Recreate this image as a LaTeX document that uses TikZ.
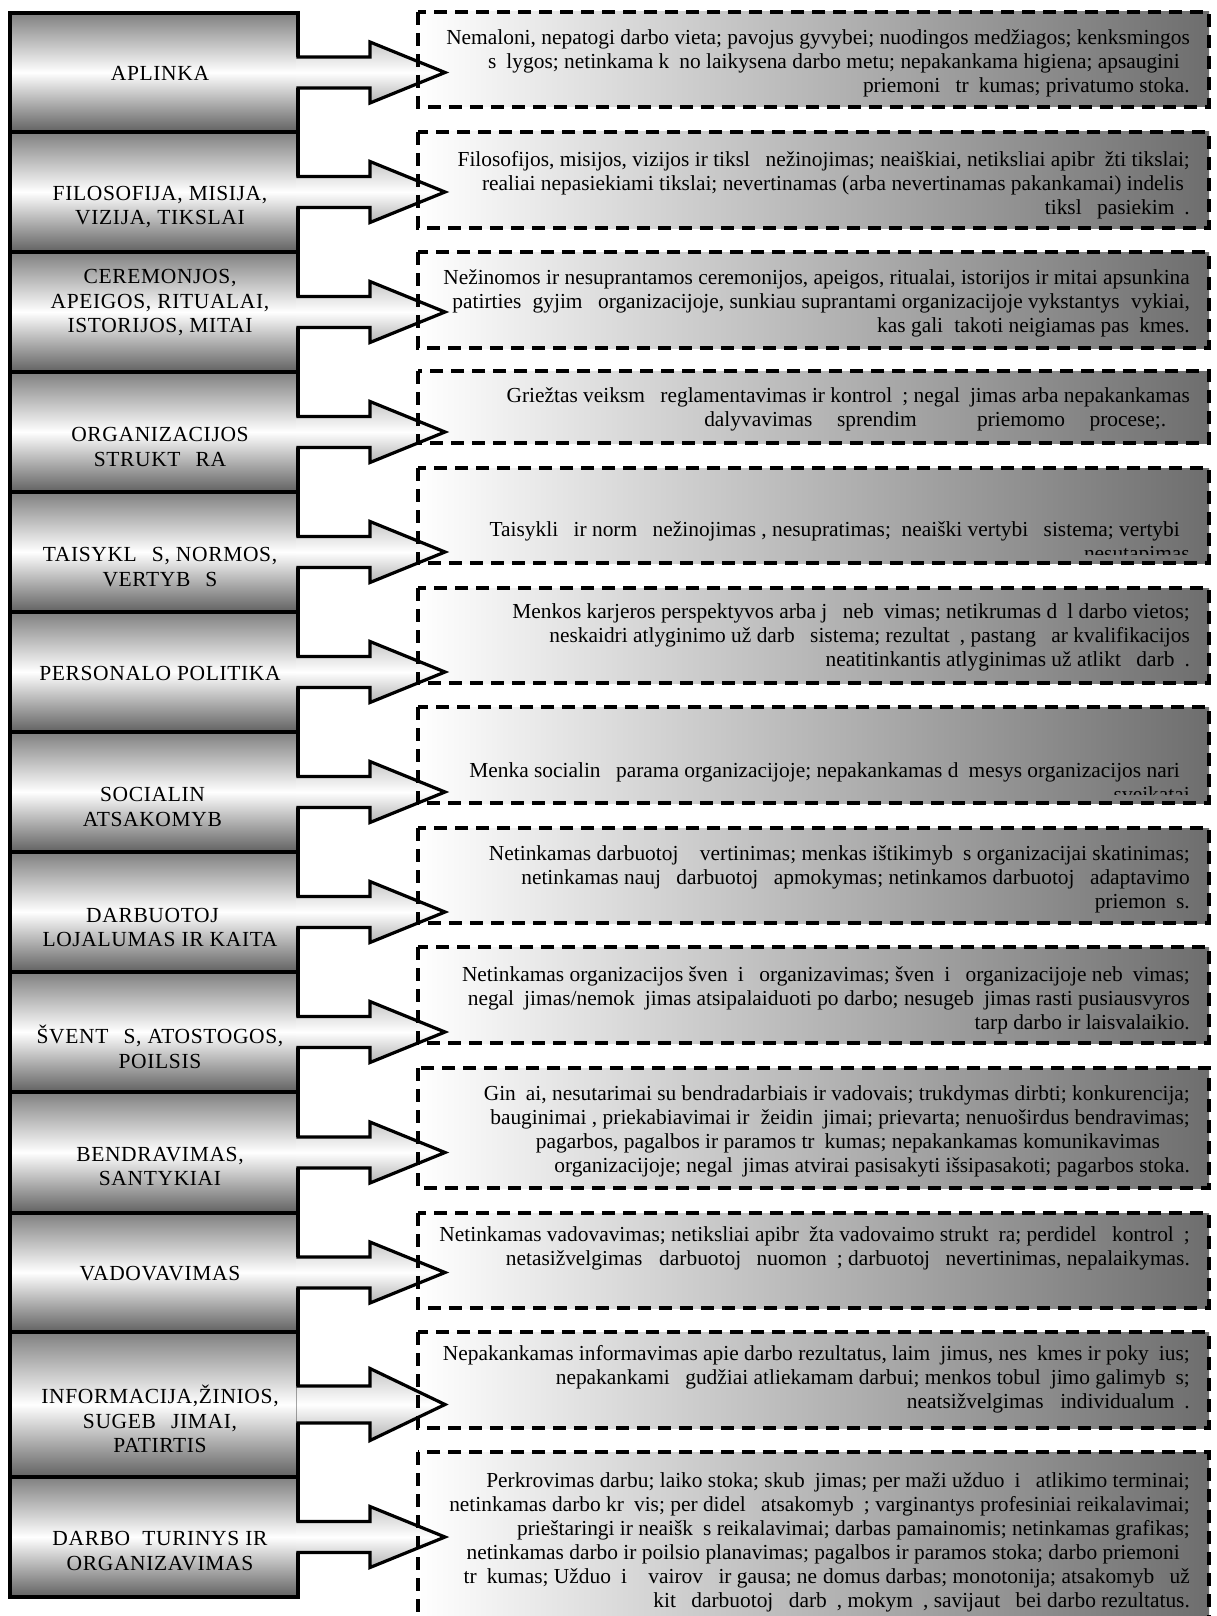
\documentclass[tikz,border=0pt]{standalone}
\usepackage{fontspec}
\setmainfont{Liberation Serif}
\newfontfamily\rfont{Liberation Serif}
\newfontfamily\lfont[LetterSpace=3]{Liberation Serif}
\usetikzlibrary{calc}
\newcommand\mq{\kern0.47em\relax}
\newcommand\mi{\kern0.28em\relax}
\newcommand\MQ{\kern0.7em\relax}
\tikzset{
  lbox/.style={rectangle, draw=black, line width=3.2pt, top color=black!50, bottom color=black!62, middle color=white, minimum width=288pt, inner sep=0pt, outer sep=0pt},
  lbl/.style={font=\lfont\fontsize{21.5}{24.5}\selectfont, align=center, inner sep=0pt},
  rbox/.style={rectangle, left color=white, right color=black!57, minimum width=791pt, inner sep=0pt, outer sep=0pt},
  rbord/.style={draw=black, line width=3.2pt, dash pattern=on 13pt off 8pt},
  rtxt/.style={font=\rfont\fontsize{21.4}{24}\selectfont, align=right, inner sep=0pt, anchor=east},
  arrowsty/.style={draw=black, line width=3.2pt, top color=black!22, bottom color=black!30, middle color=white}
}
\begin{document}
\begin{tikzpicture}[x=1pt,y=-1pt]
\useasboundingbox (0,0) rectangle (1216,1616);
\clip (0,0) rectangle (1216,1616);
% left boxes
\foreach \k/\t/\b in {1/13/132,2/132/252,3/252/372,4/372/492,5/492/612,6/612/732,7/732/852,8/852/972,9/972/1092,10/1092/1213,11/1213/1332,12/1332/1477,13/1477/1597}{
  \node[lbox, minimum height={\b-\t}] (L\k) at (154,{(\t+\b)/2}) {};
}
% labels
\node[lbl] (T1) at (160,73) {APLINKA};
\node[lbl] (T2) at (160,207) {FILOSOFIJA, MISIJA,\\VIZIJA, TIKSLAI};
\node[lbl] (T3) at (160,303) {CEREMONJOS,\\APEIGOS, RITUALAI,\\ISTORIJOS, MITAI};
\node[lbl] (T4) at (160,447) {ORGANIZACIJOS\\STRUKT\MQ RA};
\node[lbl] (T5) at (160,567) {TAISYKL\MQ S, NORMOS,\\VERTYB\MQ S};
\node[lbl] (T6) at (160,673) {PERSONALO POLITIKA};
\node[lbl] (T7) at (160,807) {SOCIALIN\MQ\\ATSAKOMYB\MQ};
\node[lbl] (T8) at (160,927.5) {DARBUOTOJ\MQ\\LOJALUMAS IR KAITA};
\node[lbl] (T9) at (160,1047) {ŠVENT\MQ S, ATOSTOGOS,\\POILSIS};
\node[lbl] (T10) at (160,1166.5) {BENDRAVIMAS,\\SANTYKIAI};
\node[lbl] (T11) at (160,1274) {VADOVAVIMAS};
\node[lbl] (T12) at (160,1419) {INFORMACIJA,ŽINIOS,\\SUGEB\MQ JIMAI,\\PATIRTIS};
\node[lbl] (T13) at (160,1551) {DARBO\ \ TURINYS IR\\ORGANIZAVIMAS};
% right box fills
\foreach \k/\t/\b in {1/12/107,2/132/228,3/252/348,4/371/443,5/468/563,6/588/683,7/707/803,8/828/923,9/947/1043,10/1068/1188,11/1213/1308,12/1332/1428,13/1452/1680}{
  \node[rbox, minimum height={\b-\t}] (R\k) at (813.5,{(\t+\b)/2}) {};
}
% block arrows
\foreach \k/\s/\h in {1/15.5/30.5,2/15.5/30.5,3/15.5/30.5,4/15.5/30.5,5/15.5/30.5,6/15.5/30.5,7/15.5/30.5,8/15.5/30.5,9/15.5/30.5,10/15.5/30.5,11/15.5/30.5,12/18.5/36,13/15.5/30.5}{
  \path[arrowsty] ($(L\k.east)+(-1.7,-\s)$) -- ($(L\k.east)+(72,-\s)$) -- ($(L\k.east)+(72,-\h)$) -- ($(L\k.east)+(147,0)$) -- ($(L\k.east)+(72,\h)$) -- ($(L\k.east)+(72,\s)$) -- ($(L\k.east)+(-1.7,\s)$);
}
% right box borders
\foreach \k in {1,...,13}{
  \draw[rbord] (R\k.north west) rectangle (R\k.south east);
}
% right texts
\node[rtxt] (X1) at (1190,63) {Nemaloni, nepatogi darbo vieta; pavojus gyvybei; nuodingos medžiagos; kenksmingos\\s\mq lygos; netinkama k\mq no laikysena darbo metu; nepakankama higiena; apsaugini\mq\\priemoni\mq{} tr\mq kumas; privatumo stoka.};
\node[rtxt] (X2) at (1190,185) {Filosofijos, misijos, vizijos ir tiksl\mq{} nežinojimas; neaiškiai, netiksliai apibr\mq žti tikslai;\\realiai nepasiekiami tikslai; nevertinamas (arba nevertinamas pakankamai) indelis\mi\\tiksl\mq{} pasiekim\mq.};
\node[rtxt] (X3) at (1190,303) {Nežinomos ir nesuprantamos ceremonijos, apeigos, ritualai, istorijos ir mitai apsunkina\\patirties \mi gyjim\mq{} organizacijoje, sunkiau suprantami organizacijoje vykstantys \mi vykiai,\\kas gali \mi takoti neigiamas pas\mq kmes.};
\node[rtxt] (X4) at (1190,409.5) {Griežtas veiksm\mq{} reglamentavimas ir kontrol\mq; negal\mq jimas arba nepakankamas\\dalyvavimas\hspace{0.9em} sprendim\mq\hspace{2.1em} priemomo\hspace{0.9em} procese;.\kern1.1em};
\begin{scope}
\clip (418,468) rectangle (1209,554);
\node[rtxt] (X5) at (1190,543) {Taisykli\mq{} ir norm\mq{} nežinojimas , nesupratimas;\ \ neaiški vertybi\mq{} sistema; vertybi\mq\\nesutapimas};
\end{scope}
\node[rtxt] (X6) at (1190,637) {Menkos karjeros perspektyvos arba j\mq{} neb\mq vimas; netikrumas d\mq l darbo vietos;\\neskaidri atlyginimo už darb\mq{} sistema; rezultat\mq, pastang\mq{} ar kvalifikacijos\\neatitinkantis atlyginimas už atlikt\mq{} darb\mq.};
\begin{scope}
\clip (418,707) rectangle (1209,794);
\node[rtxt] (X7) at (1190,782) {Menka socialin\mq{} parama organizacijoje; nepakankamas d\mq mesys organizacijos nari\mq\\sveikatai};
\end{scope}
\node[rtxt] (X8) at (1190,879) {Netinkamas darbuotoj\mq{} \mi vertinimas; menkas ištikimyb\mq s organizacijai skatinimas;\\netinkamas nauj\mq{} darbuotoj\mq{} apmokymas; netinkamos darbuotoj\mq{} adaptavimo\\priemon\mq s.};
\node[rtxt] (X9) at (1190,1000) {Netinkamas organizacijos šven\mq i\mq{} organizavimas; šven\mq i\mq{} organizacijoje neb\mq vimas;\\negal\mq jimas/nemok\mq jimas atsipalaiduoti po darbo; nesugeb\mq jimas rasti pusiausvyros\\tarp darbo ir laisvalaikio.};
\node[rtxt] (X10) at (1190,1131) {Gin\mq ai, nesutarimai su bendradarbiais ir vadovais; trukdymas dirbti; konkurencija;\\bauginimai , priekabiavimai ir \mi žeidin\mq jimai; prievarta; nenuoširdus bendravimas;\\pagarbos, pagalbos ir paramos tr\mq kumas; nepakankamas komunikavimas\kern1.4em\\organizacijoje; negal\mq jimas atvirai pasisakyti išsipasakoti; pagarbos stoka.};
\node[rtxt] (X11) at (1190,1248) {Netinkamas vadovavimas; netiksliai apibr\mq žta vadovaimo strukt\mq ra; perdidel\mq{} kontrol\mq;\\netasižvelgimas \mi{} darbuotoj\mq{} nuomon\mq; darbuotoj\mq{} nevertinimas, nepalaikymas.};
\node[rtxt] (X12) at (1190,1379) {Nepakankamas informavimas apie darbo rezultatus, laim\mq jimus, nes\mq kmes ir poky\mq ius;\\nepakankami \mq gudžiai atliekamam darbui; menkos tobul\mq jimo galimyb\mq s;\\neatsižvelgimas \mi{} individualum\mq.};
\node[rtxt] (X13) at (1190,1542.5) {Perkrovimas darbu; laiko stoka; skub\mq jimas; per maži užduo\mq i\mq{} atlikimo terminai;\\netinkamas darbo kr\mq vis; per didel\mq{} atsakomyb\mq; varginantys profesiniai reikalavimai;\\prieštaringi ir neaišk\mq s reikalavimai; darbas pamainomis; netinkamas grafikas;\\netinkamas darbo ir poilsio planavimas; pagalbos ir paramos stoka; darbo priemoni\mq\\tr\mq kumas; Užduo\mq i\mq{} \mi vairov\mq{} ir gausa; ne\mi domus darbas; monotonija; atsakomyb\mq{} už\\kit\mq{} darbuotoj\mq{} darb\mq, mokym\mq, savijaut\mq{} bei darbo rezultatus.};
\end{tikzpicture}
\end{document}
